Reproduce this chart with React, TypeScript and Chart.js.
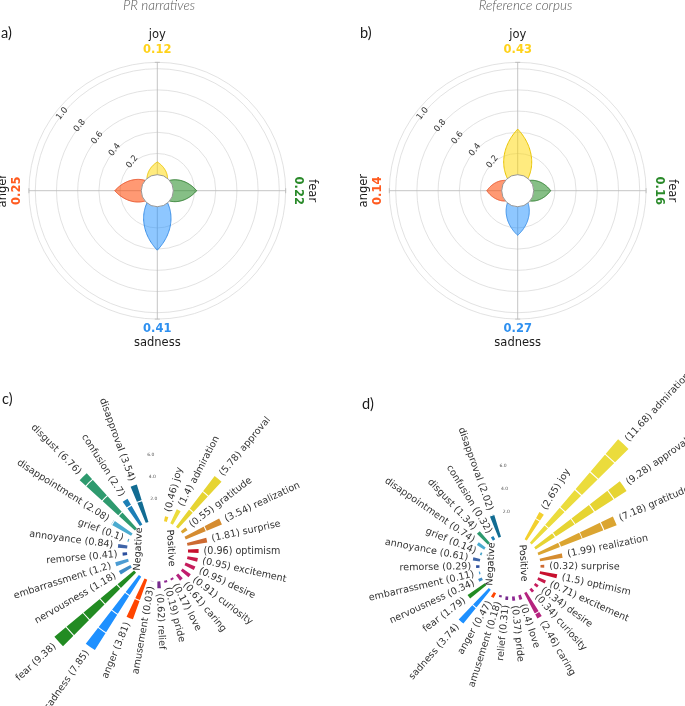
import React, { useEffect, useRef } from "react";
import { Chart, registerables } from "chart.js";
Chart.register(...registerables);

// ---------- data: basic emotions (top panels) ----------
const basicLabels = ["joy", "fear", "sadness", "anger"];
const prBasic = [0.12, 0.22, 0.41, 0.25];
const refBasic = [0.43, 0.16, 0.27, 0.14];
const basicFill = ["rgba(255,215,0,0.5)", "rgba(34,139,34,0.55)", "rgba(30,144,255,0.5)", "rgba(255,69,0,0.55)"];
const basicEdge = ["#E8C300", "#2E7D2E", "#3C8FE6", "#E8542A"];
const basicText = ["#FFD21A", "#2A8A2A", "#2E90F0", "#FF5A1F"];
const radialTicks = [0.2, 0.4, 0.6, 0.8, 1.0];

// ---------- data: fine emotions (bottom panels) ----------
const fineLabels = [
  "joy", "admiration", "approval", "gratitude", "realization", "surprise", "optimism",
  "excitement", "desire", "curiosity", "caring", "love", "pride", "relief", "amusement",
  "anger", "sadness", "fear", "nervousness", "embarrassment", "remorse", "annoyance",
  "grief", "disappointment", "disgust", "confusion", "disapproval",
];
const prFine = [0.46, 1.4, 5.78, 0.55, 3.54, 1.81, 0.96, 0.95, 0.95, 0.91, 0.61, 0.17, 0.19, 0.62, 0.03,
  3.81, 7.85, 9.38, 1.18, 1.2, 0.41, 0.84, 0.1, 2.08, 6.76, 2.7, 3.54];
const refFine = [2.65, 11.68, 9.28, 7.18, 1.99, 0.32, 1.5, 0.71, 0.34, 0.34, 2.46, 0.4, 0.37, 0.31, 0.18,
  0.47, 3.74, 1.79, 0.34, 0.11, 0.29, 0.61, 0.14, 0.74, 1.34, 0.32, 2.02];
const fineColors = [
  "#F3D02E", "#EBDC3C", "#E6D432", "#DBA531", "#D58C30", "#CD6A32", "#C8102E",
  "#C81A4A", "#C61C5C", "#C11C6C", "#B5237E", "#A3268C", "#8E2793", "#762A8E", "#7B2D8E",
  "#FF4500", "#1E90FF", "#228B22", "#3F8CC6", "#4C9CD3", "#2C4F9E", "#3E64A8",
  "#49A3C8", "#4AABD0", "#2E9A6E", "#1C7FB6", "#126C92",
];
const countTicks = [2, 4, 6];
const whiteRings = [2, 4, 6, 8, 10];

// ---------- helpers ----------
const DEJAVU = "'DejaVu Sans', Verdana, sans-serif";
function rtext(ctx: CanvasRenderingContext2D, s: string, x: number, y: number, rotDeg: number,
  align: CanvasTextAlign, font: string, color: string, baseline: CanvasTextBaseline = "middle") {
  ctx.save();
  ctx.translate(x, y);
  ctx.rotate((rotDeg * Math.PI) / 180);
  ctx.font = font;
  ctx.fillStyle = color;
  ctx.textAlign = align;
  ctx.textBaseline = baseline;
  ctx.fillText(s, 0, 0);
  ctx.restore();
}

function geo(chart: any) {
  const xs = chart.scales.x, ys = chart.scales.y;
  const toPx = (x: number, y: number): [number, number] => [xs.getPixelForValue(x), ys.getPixelForValue(y)];
  const polar = (deg: number, r: number) => {
    const a = (deg * Math.PI) / 180;
    return toPx(r * Math.sin(a), r * Math.cos(a));
  };
  const [cx, cy] = toPx(0, 0);
  const u = xs.getPixelForValue(1) - cx;
  return { toPx, polar, cx, cy, u };
}

// ---------- top panel plugin ----------
const HOLE = 0.151;
const R_OUTER = 1.06;
const PETAL_HALF = 40;

function basicPlugin(values: number[], title: string, titleX: number, tag: string, tagX: number) {
  return {
    id: "basicRose",
    afterDraw(chart: any) {
      const ctx: CanvasRenderingContext2D = chart.ctx;
      const { polar, cx, cy, u } = geo(chart);
      ctx.save();
      // grid circles
      ctx.strokeStyle = "#dadada";
      ctx.lineWidth = 0.8;
      [...radialTicks, R_OUTER].forEach((t) => {
        ctx.beginPath();
        ctx.arc(cx, cy, (HOLE + t) * u, 0, Math.PI * 2);
        ctx.stroke();
      });
      // spokes with end ticks
      ctx.strokeStyle = "#b5b5b5";
      ctx.lineWidth = 0.8;
      basicLabels.forEach((_, i) => {
        const deg = i * 90;
        const [x0, y0] = polar(deg, 0);
        const [x1, y1] = polar(deg, HOLE + R_OUTER);
        ctx.beginPath();
        ctx.moveTo(x0, y0);
        ctx.lineTo(x1, y1);
        ctx.stroke();
        const a = (deg * Math.PI) / 180;
        const px = Math.cos(a) * 2.5, py = Math.sin(a) * 2.5;
        ctx.beginPath();
        ctx.moveTo(x1 - px, y1 - py);
        ctx.lineTo(x1 + px, y1 + py);
        ctx.stroke();
      });
      // petals
      values.forEach((v, i) => {
        const deg = i * 90;
        ctx.beginPath();
        const N = 80;
        for (let j = 0; j <= N; j++) {
          const t = -1 + (2 * j) / N;
          const [x, y] = polar(deg + t * PETAL_HALF, HOLE + v * (1 - Math.abs(t)));
          if (j === 0) ctx.moveTo(x, y);
          else ctx.lineTo(x, y);
        }
        ctx.closePath();
        ctx.fillStyle = basicFill[i];
        ctx.fill();
        ctx.strokeStyle = basicEdge[i];
        ctx.lineWidth = 1;
        ctx.stroke();
      });
      // hole
      ctx.beginPath();
      ctx.arc(cx, cy, HOLE * u, 0, Math.PI * 2);
      ctx.fillStyle = "#ffffff";
      ctx.fill();
      ctx.strokeStyle = "#8c8c8c";
      ctx.lineWidth = 0.9;
      ctx.stroke();
      // radial tick labels
      const lb = -55.5;
      const la = (lb * Math.PI) / 180;
      radialTicks.forEach((t) => {
        const [x, y] = polar(lb, HOLE + t);
        rtext(ctx, t.toFixed(1), x + Math.cos(la) * 9.6, y + Math.sin(la) * 9.6, -52, "center",
          `8.5px ${DEJAVU}`, "#333");
      });
      // category labels
      const nameF = `11.5px ${DEJAVU}`;
      const valF = `bold 11.5px ${DEJAVU}`;
      values.forEach((v, i) => {
        const s = v.toFixed(2);
        if (i === 0) {
          rtext(ctx, basicLabels[i], cx, cy - 155.5, 0, "center", nameF, "#1a1a1a");
          rtext(ctx, s, cx, cy - 140.5, 0, "center", valF, basicText[i]);
        } else if (i === 1) {
          rtext(ctx, basicLabels[i], cx + 154.5, cy, 90, "center", nameF, "#1a1a1a");
          rtext(ctx, s, cx + 141, cy, 90, "center", valF, basicText[i]);
        } else if (i === 2) {
          rtext(ctx, s, cx, cy + 138.8, 0, "center", valF, basicText[i]);
          rtext(ctx, basicLabels[i], cx, cy + 152.8, 0, "center", nameF, "#1a1a1a");
        } else {
          rtext(ctx, basicLabels[i], cx - 154, cy, -90, "center", nameF, "#1a1a1a");
          rtext(ctx, s, cx - 140, cy, -90, "center", valF, basicText[i]);
        }
      });
      // title + tag
      rtext(ctx, title, titleX, 5.5, 0, "center", "italic 300 13.5px Lato", "#555");
      rtext(ctx, tag, tagX, 33, 0, "left", "14.5px Lato", "#1a1a1a");
      ctx.restore();
    },
  };
}

// ---------- bottom panel plugin ----------
function finePlugin(values: number[], base: number, start: number, step: number, widthRad: number,
  tag: string, tagX: number, tagY: number) {
  return {
    id: "fineRadial",
    afterDraw(chart: any) {
      const ctx: CanvasRenderingContext2D = chart.ctx;
      const { polar, cx, cy, u } = geo(chart);
      ctx.save();
      // bars
      values.forEach((v, i) => {
        const bearing = start + i * step;
        const a = ((bearing - 90) * Math.PI) / 180;
        const r0 = base * u, r1 = (base + v) * u;
        ctx.beginPath();
        ctx.arc(cx, cy, r1, a - widthRad / 2, a + widthRad / 2);
        ctx.arc(cx, cy, r0, a + widthRad / 2, a - widthRad / 2, true);
        ctx.closePath();
        ctx.fillStyle = fineColors[i];
        ctx.fill();
      });
      // white grid rings
      ctx.strokeStyle = "#ffffff";
      ctx.lineWidth = 1.1;
      whiteRings.forEach((g) => {
        ctx.beginPath();
        ctx.arc(cx, cy, (base + g) * u, 0, Math.PI * 2);
        ctx.stroke();
      });
      // radial tick labels
      countTicks.forEach((t) => {
        const [x, y] = polar(-4, base + t);
        rtext(ctx, t.toFixed(1), x, y, 0, "center", `4.5px ${DEJAVU}`, "#555");
      });
      // labels
      const f = `9.6px ${DEJAVU}`;
      values.forEach((v, i) => {
        const bearing = start + i * step;
        const [x, y] = polar(bearing, base + v);
        const a = ((bearing - 90) * Math.PI) / 180;
        const pad = 5;
        const ax = x + Math.cos(a) * pad, ay = y + Math.sin(a) * pad;
        if (bearing < 180) {
          rtext(ctx, `(${v}) ${fineLabels[i]}`, ax, ay, bearing - 90, "left", f, "#333");
        } else {
          rtext(ctx, `${fineLabels[i]} (${v})`, ax, ay, bearing - 270, "right", f, "#333");
        }
      });
      rtext(ctx, "Negative", cx - 19, cy - 2, -87, "center", `9.6px ${DEJAVU}`, "#222");
      rtext(ctx, "Positive", cx + 13, cy - 3, 87, "center", `9.6px ${DEJAVU}`, "#222");
      rtext(ctx, tag, tagX, tagY, 0, "left", "14.5px Lato", "#1a1a1a");
      ctx.restore();
    },
  };
}

type Spec = { left: number; top: number; width: number; height: number; cx: number; cy: number; ppu: number; plugin: any };

function Panel({ spec }: { spec: Spec }) {
  const ref = useRef<HTMLCanvasElement>(null);
  useEffect(() => {
    const canvas = ref.current!;
    const { width: W, height: H, cx, cy, ppu } = spec;
    const chart = new Chart(canvas, {
      type: "scatter",
      data: { datasets: [{ data: [], pointRadius: 0 }] },
      options: {
        animation: false,
        responsive: false,
        maintainAspectRatio: false,
        devicePixelRatio: 1,
        layout: { padding: 0 },
        plugins: { legend: { display: false }, tooltip: { enabled: false } },
        scales: {
          x: { type: "linear", display: false, bounds: "data", min: -cx / ppu, max: (W - cx) / ppu },
          y: { type: "linear", display: false, bounds: "data", min: -(H - cy) / ppu, max: cy / ppu },
        },
      } as any,
      plugins: [spec.plugin],
    });
    return () => chart.destroy();
  }, []);
  return (
    <canvas
      ref={ref}
      width={spec.width}
      height={spec.height}
      style={{ position: "absolute", left: spec.left, top: spec.top, width: spec.width, height: spec.height }}
    />
  );
}

const specs: Spec[] = [
  { left: 0, top: 0, width: 342, height: 370, cx: 157.3, cy: 190.7, ppu: 106,
    plugin: basicPlugin(prBasic, "PR narratives", 159, "a)", 1) },
  { left: 342, top: 0, width: 343, height: 370, cx: 175.7, cy: 190.7, ppu: 106,
    plugin: basicPlugin(refBasic, "Reference corpus", 183.5, "b)", 18) },
  { left: 0, top: 370, width: 342, height: 336, cx: 157.5, cy: 181, ppu: 11.05,
    plugin: finePlugin(prFine, 2.76, 15, 12.5, 0.095, "c)", 2, 29) },
  { left: 342, top: 370, width: 343, height: 336, cx: 168, cy: 196, ppu: 11.65,
    plugin: finePlugin(refFine, 2.62, 31, 11.9, 0.085, "d)", 20, 34) },
];

export default function App() {
  return (
    <div style={{ position: "absolute", left: 0, top: 0, width: 685, height: 706, background: "#fff", overflow: "hidden" }}>
      {specs.map((s, i) => (
        <Panel key={i} spec={s} />
      ))}
    </div>
  );
}
